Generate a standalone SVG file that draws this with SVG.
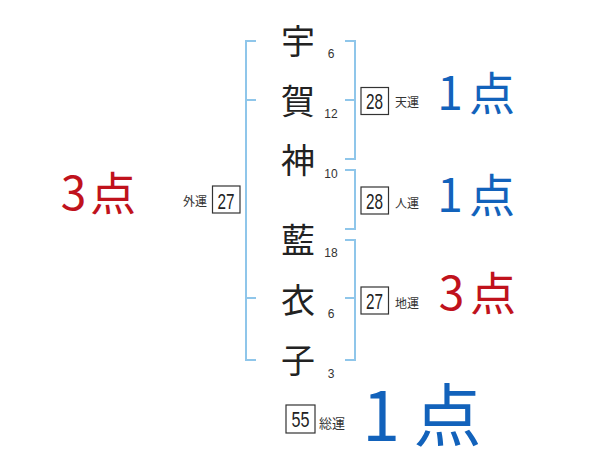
<svg xmlns="http://www.w3.org/2000/svg" width="600" height="470" viewBox="0 0 600 470">
<style>
.br{fill:none;stroke:#8fc6ea;stroke-width:2}
.kj{font-family:"Noto Sans CJK JP","Noto Sans CJK SC",sans-serif;font-size:34px;fill:#222;text-anchor:middle}
.sn{font-family:"Liberation Sans",sans-serif;font-size:12px;fill:#333;text-anchor:middle}
.bx{fill:#fff;stroke:#333;stroke-width:1.2}
.bn{font-family:"Liberation Sans",sans-serif;font-size:22px;fill:#222;text-anchor:middle}
.lb{font-family:"Noto Sans CJK JP","Noto Sans CJK SC",sans-serif;font-size:12px;fill:#333}
.pt{font-family:"Noto Sans CJK JP","Noto Sans CJK SC",sans-serif;font-size:46px;text-anchor:middle}
.red{fill:#c0121c}
.blue{fill:#1262bb}
</style>
<rect width="600" height="470" fill="#fff"/>
<g id="connectors">
<path class="br" d="M256,41 H246 V360 H256 M246,100 H256 M246,298 H256"/>
<path class="br" d="M345,41 H355 V159 H345 M345,100 H355"/>
<path class="br" d="M345,170 H355 V229 H345"/>
<path class="br" d="M345,240 H355 V360 H345 M345,298 H355"/>
</g>
<g id="name">
<g id="k1"><text class="kj" x="298" y="54">宇</text><text class="sn" x="331" y="58">6</text></g>
<g id="k2"><text class="kj" x="298" y="114">賀</text><text class="sn" x="331" y="118">12</text></g>
<g id="k3"><text class="kj" x="298" y="173">神</text><text class="sn" x="331" y="178">10</text></g>
<g id="k4"><text class="kj" x="298" y="253">藍</text><text class="sn" x="331" y="257">18</text></g>
<g id="k5"><text class="kj" x="298" y="313">衣</text><text class="sn" x="331" y="318">6</text></g>
<g id="k6"><text class="kj" x="298" y="373">子</text><text class="sn" x="331" y="378">3</text></g>
</g>
<g id="gaiun">
<rect class="bx" x="212.5" y="186" width="27.5" height="27"/>
<text class="bn" x="226" y="209" textLength="17" lengthAdjust="spacingAndGlyphs">27</text>
<text class="lb" x="183" y="206">外運</text>
</g>
<g id="tenun">
<rect class="bx" x="361" y="87.5" width="27.5" height="27"/>
<text class="bn" x="374.5" y="109" textLength="17" lengthAdjust="spacingAndGlyphs">28</text>
<text class="lb" x="395" y="107">天運</text>
</g>
<g id="jinun">
<rect class="bx" x="361" y="187" width="27.5" height="27"/>
<text class="bn" x="374.5" y="209" textLength="17" lengthAdjust="spacingAndGlyphs">28</text>
<text class="lb" x="395" y="208">人運</text>
</g>
<g id="chiun">
<rect class="bx" x="361" y="287" width="27.5" height="27"/>
<text class="bn" x="374.5" y="309" textLength="17" lengthAdjust="spacingAndGlyphs">27</text>
<text class="lb" x="395" y="308">地運</text>
</g>
<g id="souun">
<rect class="bx" x="286" y="405" width="29" height="28"/>
<text class="bn" x="300.5" y="427" textLength="18" lengthAdjust="spacingAndGlyphs">55</text>
<text class="lb" x="319" y="428" style="font-size:13px">総運</text>
</g>
<g id="scores">
<text class="pt red" x="73.5 113" y="210">3点</text>
<text class="pt blue" x="450 492" y="110">1点</text>
<text class="pt blue" x="450 492" y="212">1点</text>
<text class="pt red" x="451.5 493" y="310">3点</text>
<text class="pt blue" x="381 447.5" y="441" style="font-size:68px">1点</text>
</g>
</svg>
